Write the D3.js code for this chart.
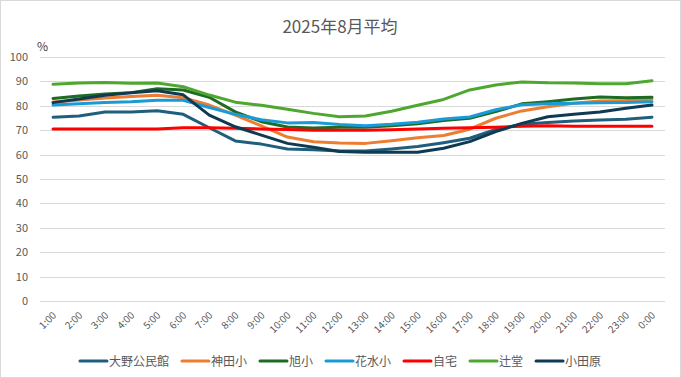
<!DOCTYPE html>
<html><head><meta charset="utf-8">
<script src="https://cdn.jsdelivr.net/npm/d3@7"></script>
<style>body{margin:0;background:#fff}svg{display:block}</style>
</head><body>
<svg id="c" width="681" height="378"></svg>
<script>
const title = "2025年8月平均";
const hours = ["1:00","2:00","3:00","4:00","5:00","6:00","7:00","8:00","9:00","10:00","11:00","12:00","13:00","14:00","15:00","16:00","17:00","18:00","19:00","20:00","21:00","22:00","23:00","0:00"];
const yTicks = [0,10,20,30,40,50,60,70,80,90,100];
const seriesNames = ["大野公民館","神田小","旭小","花水小","自宅","辻堂","小田原"];
const seriesColors = ["#1f5f7e","#ed7d31","#1e6b23","#1a9bd7","#ff0000","#4ea72e","#0e3a52"];
const oono    = [75.3,75.8,77.5,77.5,78,76.5,71,65.6,64.3,62.3,62,61.5,61.5,62.3,63.3,64.9,66.7,70.3,72.4,73.2,73.8,74.2,74.5,75.3];
const kanda   = [81.6,82.4,83.2,83.8,84.3,83.3,80.3,76.2,71.8,67.2,65.3,64.8,64.6,65.7,66.9,67.8,70.4,74.9,77.9,79.6,81,82,82.2,82.7];
const asahi   = [83,84,84.8,85.4,87,86.5,83.5,77.5,73.5,71.3,70.9,71.2,71.2,71.8,72.6,74,74.9,77.6,80.8,81.7,82.8,83.6,83.3,83.5];
const hanamizu= [80.3,80.8,81.4,81.7,82.3,82.3,79.3,76.5,74.3,73,73.2,72.3,71.8,72.4,73.3,74.6,75.4,78.4,80.4,80.8,81,81.2,81.4,81.7];
const jitaku  = [70.5,70.5,70.5,70.5,70.5,71,71,70.8,70.5,70.3,70,70,70,70.2,70.5,70.8,71,71.2,71.6,71.8,71.6,71.6,71.6,71.6];
const tsujido = [88.8,89.3,89.5,89.2,89.3,87.8,84.4,81.5,80.2,78.6,76.9,75.5,75.8,77.8,80.2,82.6,86.5,88.5,89.8,89.4,89.3,89,89,90.3];
const odawara = [81.3,82.8,84.3,85.3,86.2,84.5,76.2,71.4,68,64.6,63,61.3,61,61,61,62.6,65.3,69.4,72.8,75.5,76.5,77.5,79,80.3];
const seriesValues = [oono,kanda,asahi,hanamizu,jitaku,tsujido,odawara];

const svg = d3.select("#c");
const font = "'Noto Sans CJK JP','Noto Sans',sans-serif";
svg.append("rect").attr("x",0.5).attr("y",0.5).attr("width",680).attr("height",377)
  .attr("fill","#fff").attr("stroke","#d9d9d9");

const L=40, R=665, T=57, B=301;
const x = d3.scaleBand().domain(hours).range([L,R]);
const y = d3.scaleLinear().domain([0,100]).range([B,T]);

svg.append("text").attr("x",340).attr("y",33).attr("text-anchor","middle")
  .attr("font-family",font).attr("font-size",17).attr("fill","#595959").text(title);

// grid
svg.append("g").selectAll("line").data(yTicks).join("line")
  .attr("x1",L).attr("x2",R).attr("y1",d=>Math.round(y(d))+0.5).attr("y2",d=>Math.round(y(d))+0.5)
  .attr("stroke","#d9d9d9").attr("stroke-width",1);

// y axis
const ya = svg.append("g").attr("transform",`translate(${L},0)`)
  .call(d3.axisLeft(y).tickValues(yTicks).tickSize(0).tickPadding(12));
ya.select(".domain").remove();
ya.selectAll("text").attr("font-family",font).attr("font-size",11).attr("fill","#595959");

svg.append("text").attr("x",37).attr("y",51).attr("font-family",font).attr("font-size",12)
  .attr("fill","#404040").text("%");

// x axis
const xa = svg.append("g").attr("transform",`translate(0,${B})`)
  .call(d3.axisBottom(x).tickSize(0).tickPadding(0));
xa.select(".domain").remove();
xa.selectAll("text").attr("font-family",font).attr("font-size",10).attr("fill","#595959")
  .attr("text-anchor","end").attr("dy",0).attr("y",0)
  .attr("transform","translate(4,15) rotate(-45)");

// lines
const line = d3.line().x((d,i)=>x(hours[i])+x.bandwidth()/2).y(d=>y(d));
svg.append("g").selectAll("path").data(seriesValues).join("path")
  .attr("d",line).attr("fill","none")
  .attr("stroke",(d,i)=>seriesColors[i]).attr("stroke-width",3)
  .attr("stroke-linejoin","round").attr("stroke-linecap","round");

// legend
const lg = svg.append("g");
const items = lg.selectAll("g").data(seriesNames).join("g");
items.append("line").attr("x1",0).attr("x2",27).attr("y1",0).attr("y2",0)
  .attr("stroke",(d,i)=>seriesColors[i]).attr("stroke-width",3).attr("stroke-linecap","round");
items.append("text").attr("x",29).attr("y",4.5).attr("font-family",font).attr("font-size",12)
  .attr("fill","#595959").text(d=>d);
let cx=0; const pos=[];
items.each(function(){ pos.push(cx); cx += 29 + this.querySelector("text").getComputedTextLength() + 13; });
const total = cx-13;
const start = 340.5 - total/2;
items.attr("transform",(d,i)=>`translate(${start+pos[i]},361)`);
</script>
</body></html>
